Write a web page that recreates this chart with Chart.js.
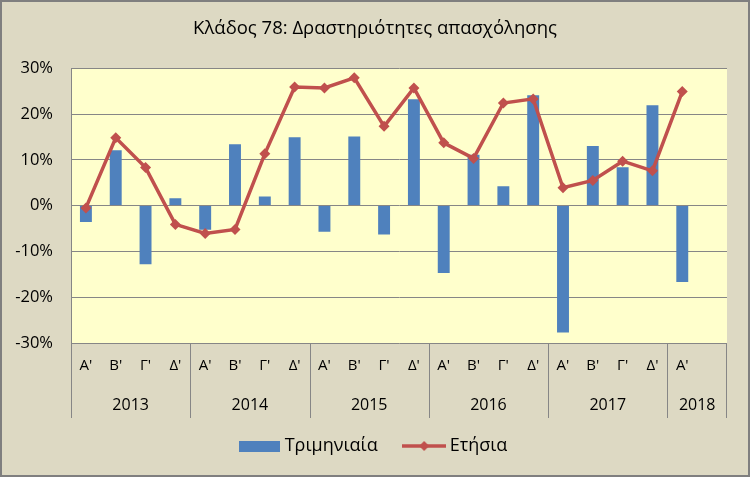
<!DOCTYPE html>
<html>
<head>
<meta charset="utf-8">
<script src="https://cdn.jsdelivr.net/npm/chart.js@4.4.1/dist/chart.umd.min.js"></script>
<style>
  body { margin: 0; background: #DDD9C3; }
  canvas { display: block; }
</style>
</head>
<body>
<canvas id="chart" width="750" height="477"></canvas>
<script>
// quarters along the x axis (last slot of 2018 is empty)
var quarters = ["Α'", "Β'", "Γ'", "Δ'", "Α'", "Β'", "Γ'", "Δ'", "Α'", "Β'", "Γ'", "Δ'",
                "Α'", "Β'", "Γ'", "Δ'", "Α'", "Β'", "Γ'", "Δ'", "Α'", ""];
var years = ['2013', '2014', '2015', '2016', '2017', '2018'];
var yearSpan = [4, 4, 4, 4, 4, 2];

// % change
var quarterly = [-3.6, 12.1, -12.8, 1.6, -5.3, 13.4, 2.0, 14.9, -5.7, 15.1, -6.3, 23.2,
                 -14.7, 11.1, 4.2, 24.1, -27.7, 13.0, 8.4, 21.9, -16.7, null];
var annual = [-0.5, 14.8, 8.3, -4.1, -6.1, -5.2, 11.3, 25.9, 25.7, 27.9, 17.3, 25.7,
              13.7, 10.3, 22.4, 23.3, 3.9, 5.5, 9.7, 7.6, 24.9, null];

var yTicks = [-30, -20, -10, 0, 10, 20, 30];

var FONT = "'Open Sans', 'Noto Sans', sans-serif";
var BLUE = '#4F81BD';
var RED = '#C0504D';
var GRID = '#868686';

// legend symbols
function barSymbol() {
  var c = document.createElement('canvas');
  c.width = 41; c.height = 11;
  var g = c.getContext('2d');
  g.fillStyle = BLUE;
  g.fillRect(0, 0, 41, 11);
  return c;
}
function lineSymbol() {
  var c = document.createElement('canvas');
  c.width = 44; c.height = 12;
  var g = c.getContext('2d');
  g.strokeStyle = RED;
  g.lineWidth = 3.5;
  g.beginPath(); g.moveTo(0, 6); g.lineTo(44, 6); g.stroke();
  g.fillStyle = RED;
  g.beginPath(); g.moveTo(22, 1); g.lineTo(27, 6); g.lineTo(22, 11); g.lineTo(17, 6); g.closePath(); g.fill();
  return c;
}

var background = {
  id: 'background',
  beforeDraw: function(chart) {
    var ctx = chart.ctx, a = chart.chartArea;
    ctx.save();
    ctx.fillStyle = '#DDD9C3';
    ctx.fillRect(0, 0, chart.width, chart.height);
    ctx.strokeStyle = '#7F7F7F';
    ctx.lineWidth = 2;
    ctx.strokeRect(1, 1, chart.width - 2, chart.height - 2);
    ctx.fillStyle = '#FFFFCC';
    ctx.fillRect(a.left, a.top, a.right - a.left, a.bottom - a.top);
    ctx.restore();
  }
};

// year row and group separators under the quarter labels
var yearAxis = {
  id: 'yearAxis',
  afterDraw: function(chart) {
    var ctx = chart.ctx, x = chart.scales.x, a = chart.chartArea;
    var step = x.getPixelForValue(1) - x.getPixelForValue(0);
    var bottom = a.bottom + 75;
    ctx.save();
    ctx.strokeStyle = GRID;
    ctx.lineWidth = 1;
    ctx.fillStyle = '#000';
    ctx.font = '16px ' + FONT;
    ctx.textAlign = 'center';
    ctx.textBaseline = 'middle';
    var i = 0;
    for (var k = 0; k < years.length; k++) {
      var left = x.getPixelForValue(i) - step / 2;
      var right = x.getPixelForValue(i + yearSpan[k] - 1) + step / 2;
      ctx.beginPath();
      ctx.moveTo(Math.round(left) + 0.5, a.bottom);
      ctx.lineTo(Math.round(left) + 0.5, bottom);
      ctx.stroke();
      if (k === years.length - 1) {
        ctx.beginPath();
        ctx.moveTo(Math.round(right) - 0.5, a.bottom);
        ctx.lineTo(Math.round(right) - 0.5, bottom);
        ctx.stroke();
      }
      ctx.fillText(years[k], (left + right) / 2, a.bottom + 62);
      i += yearSpan[k];
    }
    ctx.restore();
  }
};

new Chart(document.getElementById('chart'), {
  type: 'bar',
  data: {
    labels: quarters,
    datasets: [{
      type: 'line',
      label: 'Ετήσια',
      data: annual,
      borderColor: RED,
      backgroundColor: RED,
      borderWidth: 3.5,
      pointStyle: 'rectRot',
      pointRadius: 5.5,
      pointBorderWidth: 0,
      tension: 0,
      order: 0
    }, {
      label: 'Τριμηνιαία',
      data: quarterly,
      backgroundColor: BLUE,
      barPercentage: 0.4,
      categoryPercentage: 1,
      order: 1
    }]
  },
  options: {
    responsive: false,
    animation: false,
    layout: { padding: { left: 0, right: 0, top: 0, bottom: 12 } },
    plugins: {
      title: {
        display: true,
        text: 'Κλάδος 78: Δραστηριότητες απασχόλησης',
        color: '#000',
        font: { family: FONT, size: 18.5, weight: 'normal', lineHeight: 1.2 },
        padding: { top: 18, bottom: 28 }
      },
      legend: {
        position: 'bottom',
        reverse: true,
        labels: {
          usePointStyle: true,
          pointStyleWidth: 33,
          boxHeight: 11,
          padding: 30,
          color: '#000',
          font: { family: FONT, size: 18 },
          generateLabels: function(chart) {
            return [
              { text: 'Ετήσια', pointStyle: lineSymbol(), fillStyle: RED, strokeStyle: RED, lineWidth: 0, datasetIndex: 0 },
              { text: 'Τριμηνιαία', pointStyle: barSymbol(), fillStyle: BLUE, strokeStyle: BLUE, lineWidth: 0, datasetIndex: 1 }
            ];
          }
        }
      },
      tooltip: { enabled: false }
    },
    scales: {
      x: {
        offset: true,
        grid: { display: false, drawTicks: false },
        border: { display: false },
        ticks: { color: '#000', font: { family: FONT, size: 15 }, padding: 14, maxRotation: 0, autoSkip: false },
        afterFit: function(s) { s.height = 64; }
      },
      y: {
        min: -30,
        max: 30,
        afterBuildTicks: function(s) { s.ticks = yTicks.map(function(v) { return { value: v }; }); },
        grid: { color: GRID, drawTicks: false },
        border: { display: true, color: GRID },
        ticks: {
          color: '#000',
          font: { family: FONT, size: 16.5 },
          padding: 18,
          callback: function(v) { return v + '%'; }
        },
        afterFit: function(s) { s.width = 71; }
      },
      // empty right margin so title and legend centre on the whole canvas
      yRight: {
        type: 'linear',
        position: 'right',
        grid: { display: false },
        border: { display: false },
        ticks: { display: false },
        afterFit: function(s) { s.width = 23; }
      }
    }
  },
  plugins: [background, yearAxis]
});
</script>
</body>
</html>
